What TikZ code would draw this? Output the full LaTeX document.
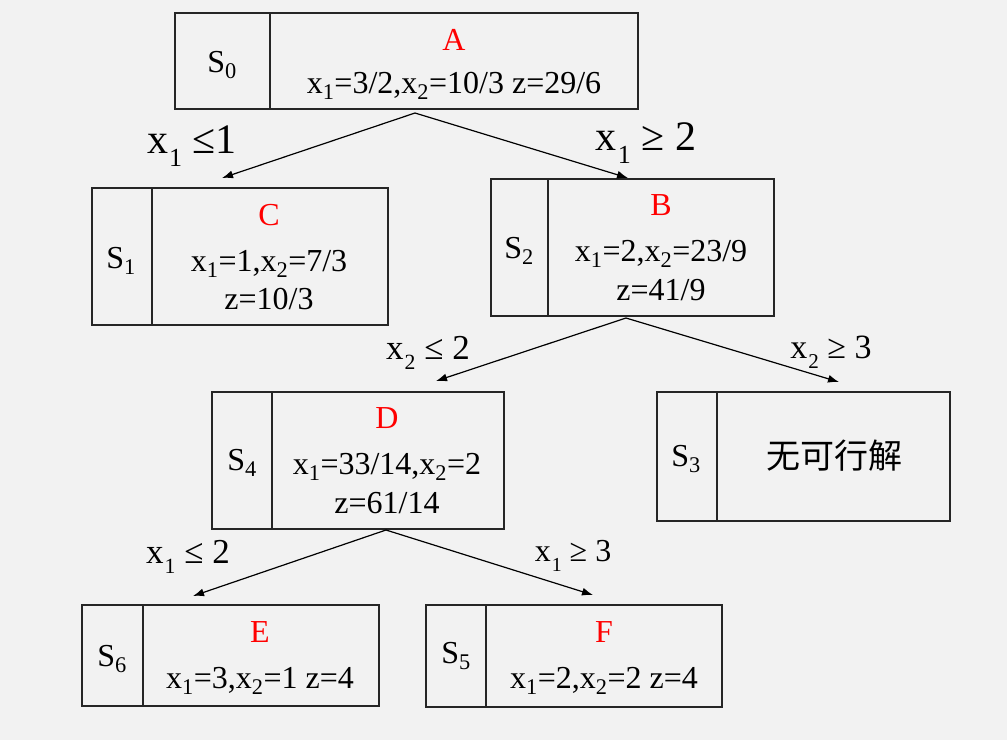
\documentclass[tikz,border=0pt]{standalone}
\usepackage{fontspec}
\setmainfont{Liberation Serif}
\newfontfamily\cjk{Noto Sans CJK SC}
\usetikzlibrary{arrows.meta}
\definecolor{bg}{RGB}{242,242,242}
\definecolor{lbred}{RGB}{255,0,0}
\newcommand\bfs{\fontsize{32}{36}\selectfont}
\newcommand\xs[1]{x\kern1pt\raisebox{-0.3em}{\fontsize{0.62em}{1em}\selectfont #1}}
\begin{document}
\begin{tikzpicture}[x=1pt,y=-1pt,
  box/.style={draw=black!85, line width=1.5pt, inner sep=0pt, anchor=north west},
  div/.style={draw=black!85, line width=1.5pt},
  txt/.style={inner sep=0pt, font=\bfs, text=black},
  ttl/.style={txt, text=lbred},
  edge/.style={line width=1.2pt, -{Latex[length=11pt,width=8pt]}},
  elbl/.style={inner sep=0pt, font=\fontsize{#1}{#1}\selectfont}]
\fill[bg] (0,0) rectangle (1007,740);
\useasboundingbox (0,0) rectangle (1007,740);
% boxes
\node[box, minimum width=463pt, minimum height=96pt] (A) at (174,12) {};
\node[box, minimum width=296pt, minimum height=137pt] (C) at (91,187) {};
\node[box, minimum width=283pt, minimum height=137pt] (B) at (490,178) {};
\node[box, minimum width=292pt, minimum height=137pt] (D) at (211,391) {};
\node[box, minimum width=293pt, minimum height=129pt] (S3) at (656,391) {};
\node[box, minimum width=297pt, minimum height=101pt] (E) at (81,604) {};
\node[box, minimum width=296pt, minimum height=102pt] (F) at (425,604) {};
% dividers
\draw[div] ([xshift=96pt]A.north west) -- ([xshift=96pt]A.south west);
\draw[div] ([xshift=61pt]C.north west) -- ([xshift=61pt]C.south west);
\draw[div] ([xshift=58pt]B.north west) -- ([xshift=58pt]B.south west);
\draw[div] ([xshift=61pt]D.north west) -- ([xshift=61pt]D.south west);
\draw[div] ([xshift=61pt]S3.north west) -- ([xshift=61pt]S3.south west);
\draw[div] ([xshift=62pt]E.north west) -- ([xshift=62pt]E.south west);
\draw[div] ([xshift=61pt]F.north west) -- ([xshift=61pt]F.south west);
% box A
\node[txt] (sA) at (222,65) {S\textsubscript{0}};
\node[ttl] (tA) at (454,40) {A};
\node[txt] (vA) at (454,86) {x\textsubscript{1}=3/2,x\textsubscript{2}=10/3 z=29/6};
% box C
\node[txt] (sC) at (121,261) {S\textsubscript{1}};
\node[ttl] (tC) at (269,215) {C};
\node[txt] (vC) at (269,264) {x\textsubscript{1}=1,x\textsubscript{2}=7/3};
\node[txt] (zC) at (269,299) {z=10/3};
% box B
\node[txt] (sB) at (519,251) {S\textsubscript{2}};
\node[ttl] (tB) at (661,205) {B};
\node[txt] (vB) at (661,254) {x\textsubscript{1}=2,x\textsubscript{2}=23/9};
\node[txt] (zB) at (661,290) {z=41/9};
% box D
\node[txt] (sD) at (242,463) {S\textsubscript{4}};
\node[ttl] (tD) at (387,418) {D};
\node[txt] (vD) at (387,467) {x\textsubscript{1}=33/14,x\textsubscript{2}=2};
\node[txt] (zD) at (387,503) {z=61/14};
% box S3
\node[txt] (sS) at (686,459) {S\textsubscript{3}};
\node[txt, font=\fontsize{34}{38}\selectfont] (vS) at (834,456) {\cjk 无可行解};
% box E
\node[txt] (sE) at (112,659) {S\textsubscript{6}};
\node[ttl] (tE) at (260,632) {E};
\node[txt] (vE) at (260,681) {x\textsubscript{1}=3,x\textsubscript{2}=1 z=4};
% box F
\node[txt] (sF) at (456,656) {S\textsubscript{5}};
\node[ttl] (tF) at (604,632) {F};
\node[txt] (vF) at (604,681) {x\textsubscript{1}=2,x\textsubscript{2}=2 z=4};
% connector end points
\coordinate (oA) at (415,113);
\coordinate (iC) at (222,178);
\coordinate (iB) at (628,178);
\coordinate (oB) at (626,318);
\coordinate (iD) at (436,381);
\coordinate (iS) at (839,382);
\coordinate (oD) at (386,530);
\coordinate (iE) at (193,596);
\coordinate (iF) at (593,595);
\draw[edge] (oA) -- (iC);
\draw[edge] (oA) -- (iB);
\draw[edge] (oB) -- (iD);
\draw[edge] (oB) -- (iS);
\draw[edge] (oD) -- (iE);
\draw[edge] (oD) -- (iF);
% edge labels
\node[elbl=42] (l1) at (192,146) {\xs{1}\ ≤1};
\node[elbl=42] (l2) at (646,143) {\xs{1}\ ≥ 2};
\node[elbl=35] (l3) at (428,353) {\xs{2}\ ≤ 2};
\node[elbl=34] (l4) at (831,352) {\xs{2}\ ≥ 3};
\node[elbl=35] (l5) at (188,557) {\xs{1}\ ≤ 2};
\node[elbl=32] (l6) at (573,556) {\xs{1}\ ≥ 3};
\end{tikzpicture}
\end{document}
